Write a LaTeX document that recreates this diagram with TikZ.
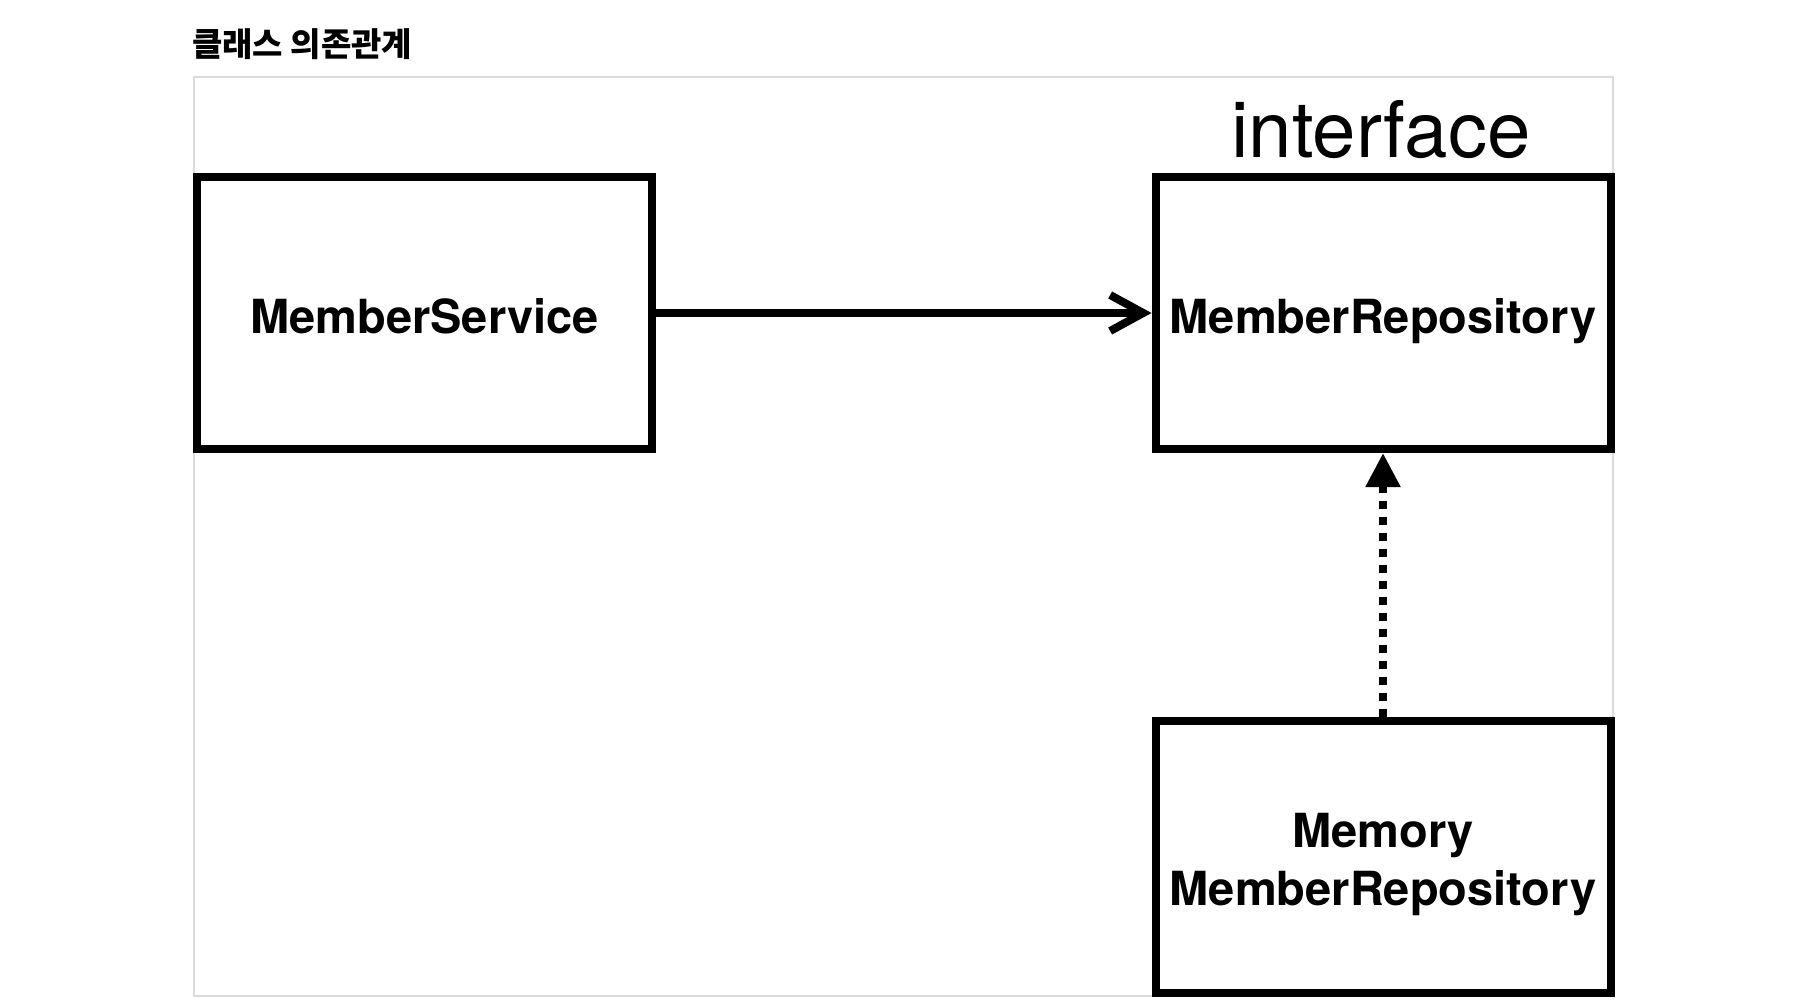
\documentclass[tikz,border=0pt]{standalone}
\usepackage{fontspec}
\setmainfont{TeX Gyre Heros}
\newfontfamily\krfont{Noto Sans CJK KR}
\usetikzlibrary{arrows.meta}
\tikzset{
  cls/.style={draw=black, line width=8pt, fill=white, minimum width=455pt, minimum height=272pt,
    inner sep=0pt, font=\bfseries\fontsize{47}{58}\selectfont, text height=40pt, text depth=0pt},
  framebox/.style={draw=gray!28, line width=2.5pt},
  dep/.style={line width=8pt, -{Straight Barb[length=33pt,width=36pt]}},
  impl/.style={line width=8pt, dash pattern=on 8pt off 8pt, -{Triangle[length=34pt,width=33pt]}},
}
\begin{document}
\begin{tikzpicture}[x=1pt,y=-1pt]
\useasboundingbox (0,0) rectangle (1798,1008);
\draw[framebox] (194,77) rectangle (1613,996);
\node[anchor=base west, inner sep=0pt, font=\krfont\bfseries\fontsize{33}{40}\selectfont] (title) at (192,57) {클래스 의존관계};
\node[cls] (ms) at (424.5,313) {MemberService};
\node[cls] (mr) at (1383,313) {MemberRepository};
\node[anchor=base, inner sep=0pt, font=\fontsize{78}{90}\selectfont] (iface) at (1381,158) {interface};
\node[cls, text height=38pt, text depth=58pt] (mem) at (1383,857)
  {\begin{tabular}[t]{@{}c@{}}Memory\\MemberRepository\end{tabular}};
\draw[dep] (ms.east) -- (mr.west);
\draw[impl] (mem.north) -- (mr.south);
\end{tikzpicture}
\end{document}
